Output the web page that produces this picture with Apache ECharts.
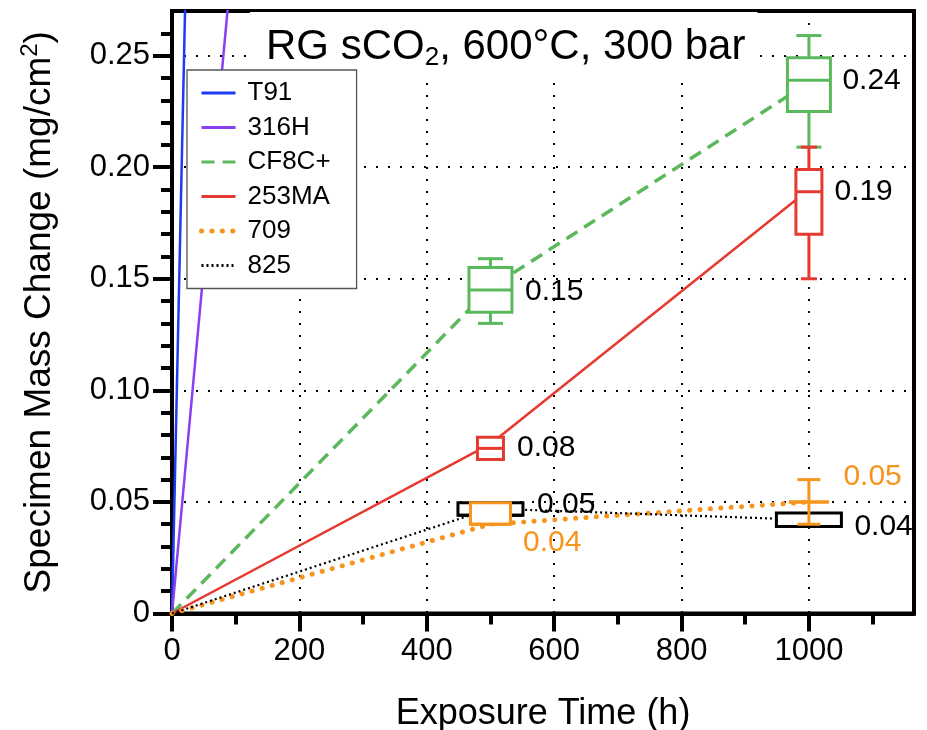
<!DOCTYPE html>
<html>
<head>
<meta charset="utf-8">
<script src="https://cdn.jsdelivr.net/npm/echarts@6/dist/echarts.min.js"></script>
<style>
  html, body { margin: 0; padding: 0; background: #fff; }
  #chart { width: 927px; height: 730px; }
</style>
</head>
<body>
<div id="chart"></div>
<script>
// Exposure times (h) and mean mass change (mg/cm^2) per alloy
const hours = [0, 500, 1000];
const t91 = [0, 6.6];
const h316 = [0, 1.55];
const cf8c = [0, 0.146, 0.238];
const ma253 = [0, 0.076, 0.19];
const a709 = [0, 0.04, 0.05];
const a825 = [0, 0.047, 0.042];

// Spread of specimens at 500 h and 1000 h: [min, q1, median, q3, max]
const boxHours = [500, 1000];
const cf8cBox = [[0.130, 0.135, 0.145, 0.155, 0.159], [0.209, 0.225, 0.239, 0.249, 0.259]];
const ma253Box = [[0.069, 0.069, 0.074, 0.079, 0.079], [0.150, 0.170, 0.189, 0.199, 0.209]];
const a709Box = [[0.040, 0.040, 0.040, 0.0496, 0.0496], [0.040, 0.050, 0.050, 0.050, 0.060]];
const a825Box = [[0.044, 0.044, 0.044, 0.0496, 0.0496], [0.039, 0.039, 0.039, 0.045, 0.045]];

// Axis ticks
const xTicks = [0, 200, 400, 600, 800, 1000];
const yTicks = [0, 0.05, 0.10, 0.15, 0.20, 0.25];
const xMinor = [];
for (let v = 0; v <= 1100; v += 100) xMinor.push(v);
const yMinor = [];
for (let i = 0; i <= 26; i++) yMinor.push(+(i * 0.01).toFixed(2));

const FONT = '"Liberation Sans", Arial, Helvetica, sans-serif';
const fmt = v => (Math.round(v * 100) / 100).toFixed(2);
const pairs = (xs, ys) => ys.map((y, i) => [xs[i], y]);

const C = {
  t91: '#1d3cf2', h316: '#8a3ff0', cf8c: '#5cb85c',
  ma253: '#e63a30', a709: '#f7941d', a825: '#000000'
};

// Line look per alloy, shared by plot and legend
const STY = {
  'T91':   { color: C.t91, width: 2.5, type: 'solid', cap: 'butt' },
  '316H':  { color: C.h316, width: 2.5, type: 'solid', cap: 'butt' },
  'CF8C+': { color: C.cf8c, width: 3.5, type: [13, 8], cap: 'butt' },
  '253MA': { color: C.ma253, width: 2.5, type: 'solid', cap: 'butt' },
  '709':   { color: C.a709, width: 5, type: [0.1, 10.3], cap: 'round' },
  '825':   { color: C.a825, width: 2.2, type: [2, 3], cap: 'butt' }
};

function lineSeries(name, values) {
  const s = STY[name];
  return {
    type: 'line', name, data: pairs(hours, values),
    symbol: 'none', z: 2, clip: true, silent: true,
    lineStyle: { color: s.color, width: s.width, type: s.type, cap: s.cap },
    itemStyle: { color: s.color }
  };
}

function boxSeries(name, boxes, means, color, boxW, capW, labelOff, labelColor, z) {
  const data = boxHours.map((h, i) => [h].concat(boxes[i], [means[i + 1]]));
  return {
    type: 'custom', name, z, data, silent: true, clip: false,
    renderItem(params, api) {
      const x = api.value(0);
      const cx = api.coord([x, api.value(3)])[0];
      const y = k => api.coord([x, api.value(k)])[1];
      const yLo = y(1), yQ1 = y(2), yMed = y(3), yQ3 = y(4), yHi = y(5);
      const st = { stroke: color, lineWidth: 3, fill: null };
      const seg = (x1, y1, x2, y2) => ({ type: 'line', shape: { x1, y1, x2, y2 }, style: st });
      const kids = [];
      if (yHi < yQ3 - 0.5) {
        kids.push(seg(cx, yQ3, cx, yHi));
        if (capW) kids.push(seg(cx - capW / 2, yHi, cx + capW / 2, yHi));
      }
      if (yLo > yQ1 + 0.5) {
        kids.push(seg(cx, yQ1, cx, yLo));
        if (capW) kids.push(seg(cx - capW / 2, yLo, cx + capW / 2, yLo));
      }
      kids.push({
        type: 'rect',
        shape: { x: cx - boxW / 2, y: yQ3, width: boxW, height: yQ1 - yQ3 },
        style: { fill: '#fff', stroke: color, lineWidth: 3 }
      });
      kids.push(seg(cx - boxW / 2, yMed, cx + boxW / 2, yMed));
      const mean = api.value(6);
      const off = labelOff[params.dataIndex];
      const yMean = api.coord([x, mean])[1];
      kids.push({
        type: 'text',
        style: {
          text: fmt(mean), x: cx + off[0], y: yMean + off[1],
          fill: labelColor, fontSize: 30, fontFamily: FONT,
          align: 'left', verticalAlign: 'middle'
        }
      });
      return { type: 'group', children: kids };
    }
  };
}

const legendNames = ['T91', '316H', 'CF8C+', '253MA', '709', '825'];
const axisLineStyle = { color: '#000', width: 4 };
const gridDots = { color: '#000', width: 2, type: [2, 10] };

const option = {
  animation: false,
  backgroundColor: '#fff',
  textStyle: { fontFamily: FONT, color: '#000' },
  title: {
    text: 'RG sCO{sub|2}, 600°C, 300 bar',
    left: 250, top: 12, z: 6,
    padding: [11, 12, 10, 16],
    backgroundColor: '#fff',
    textStyle: {
      fontSize: 42, fontWeight: 'normal', color: '#000', fontFamily: FONT,
      lineHeight: 48, verticalAlign: 'bottom',
      rich: {
        sub: { fontSize: 26, lineHeight: 22, verticalAlign: 'bottom', fontFamily: FONT, color: '#000' }
      }
    }
  },
  legend: {
    orient: 'vertical', left: 187, top: 70, z: 10,
    data: legendNames.map(n => ({
      name: n,
      lineStyle: { color: STY[n].color, width: n === '709' ? 5 : 3, type: STY[n].type, cap: STY[n].cap }
    })),
    backgroundColor: '#fff', borderColor: '#555', borderWidth: 1.3,
    padding: [10, 26, 10, 12], itemGap: 8.5,
    itemWidth: 34, itemHeight: 14,
    itemStyle: { color: 'rgba(0,0,0,0)', borderColor: 'rgba(0,0,0,0)', borderWidth: 0, opacity: 0 },
    textStyle: { fontSize: 26, lineHeight: 25, color: '#000', fontFamily: FONT, padding: [0, 0, 0, 7] },
    selectedMode: false
  },
  grid: {
    left: 172, top: 11, right: 13, bottom: 116.5,
    show: true, borderColor: '#000', borderWidth: 4,
    outerBoundsMode: 'none'
  },
  xAxis: [{
    type: 'value', min: 0, max: 1165, interval: 200, position: 'bottom',
    axisLine: { show: true, onZero: false, lineStyle: axisLineStyle },
    axisTick: { show: true, length: 18, lineStyle: { color: '#000', width: 4 }, customValues: xTicks },
    axisLabel: {
      customValues: xTicks, fontSize: 31, color: '#000', margin: 22, fontFamily: FONT,
      formatter: v => String(v)
    },
    splitLine: { show: true, lineStyle: gridDots },
    name: 'Exposure Time (h)', nameLocation: 'middle', nameGap: 83,
    nameTextStyle: { fontSize: 36, color: '#000', fontFamily: FONT }
  }, {
    type: 'value', min: 0, max: 1165, position: 'bottom', offset: 0,
    axisLine: { show: false },
    axisTick: { show: true, length: 11, lineStyle: { color: '#000', width: 4 }, customValues: xMinor },
    axisLabel: { show: false }, splitLine: { show: false }
  }],
  yAxis: [{
    type: 'value', min: 0, max: 0.27, interval: 0.05, position: 'left',
    axisLine: { show: true, onZero: false, lineStyle: axisLineStyle },
    axisTick: { show: true, length: 19, lineStyle: { color: '#000', width: 4 }, customValues: yTicks },
    axisLabel: {
      customValues: yTicks, fontSize: 31, color: '#000', margin: 22, fontFamily: FONT,
      formatter: v => (v === 0 ? '0' : v.toFixed(2))
    },
    splitLine: { show: true, lineStyle: gridDots },
    name: 'Specimen Mass Change (mg/cm{sup|2})', nameLocation: 'middle', nameGap: 154,
    nameTextStyle: {
      fontSize: 37, color: '#000', fontFamily: FONT, lineHeight: 44, verticalAlign: 'top',
      rich: { sup: { fontSize: 24, lineHeight: 22, verticalAlign: 'top', fontFamily: FONT, color: '#000' } }
    }
  }, {
    type: 'value', min: 0, max: 0.27, position: 'left', offset: 0,
    axisLine: { show: false },
    axisTick: { show: true, length: 11, lineStyle: { color: '#000', width: 4 }, customValues: yMinor },
    axisLabel: { show: false }, splitLine: { show: false }
  }],
  series: [
    lineSeries('T91', t91),
    lineSeries('316H', h316),
    lineSeries('CF8C+', cf8c),
    lineSeries('253MA', ma253),
    lineSeries('709', a709),
    lineSeries('825', a825),
    boxSeries('CF8C+ spread', cf8cBox, cf8c, C.cf8c, 43, 25, [[34.5, 4], [33.5, -2]], '#000', 3),
    boxSeries('253MA spread', ma253Box, ma253, C.ma253, 26, 16, [[26.5, 4], [25.5, 2.5]], '#000', 4),
    boxSeries('825 spread', a825Box, a825, C.a825, 65, 0, [[46.5, -3.5], [45.5, 7]], '#000', 5),
    boxSeries('709 spread', a709Box, a709, C.a709, 40, 23, [[32.5, 18], [34.5, -25]], C.a709, 6)
  ]
};

const chart = echarts.init(document.getElementById('chart'), null, { renderer: 'canvas' });
chart.setOption(option);
</script>
</body>
</html>
